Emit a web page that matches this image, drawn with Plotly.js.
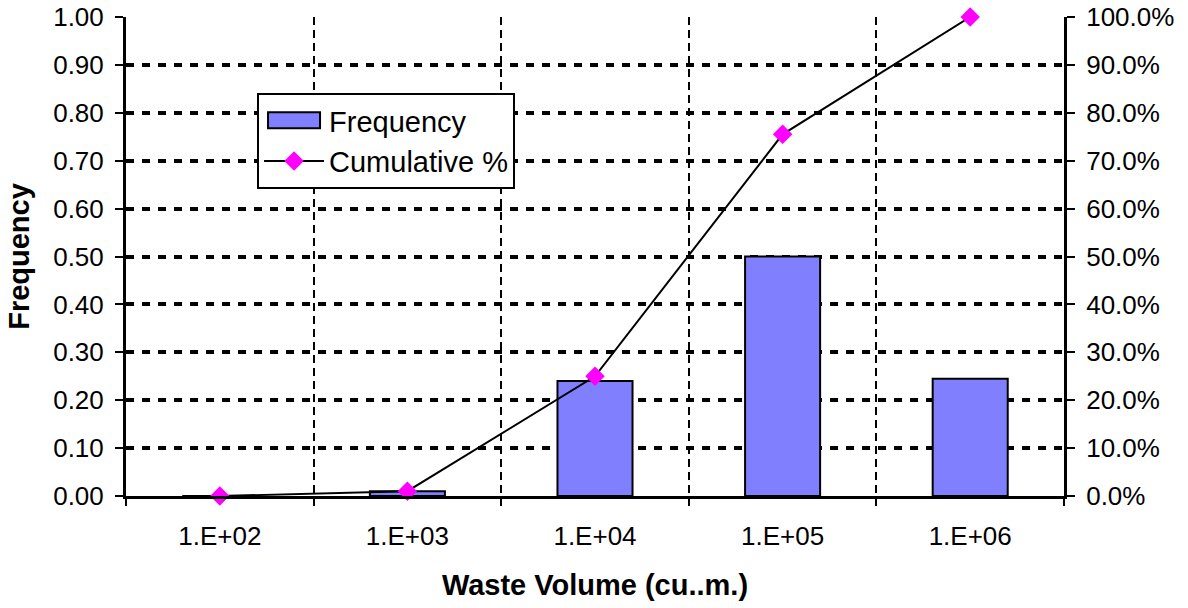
<!DOCTYPE html>
<html><head><meta charset="utf-8">
<script src="https://cdn.plot.ly/plotly-3.0.1.min.js"></script>
<style>body{margin:0;background:#fff}#c{width:1188px;height:608px}</style>
</head><body><div id="c"></div>
<script>
const categories = ["1.E+02", "1.E+03", "1.E+04", "1.E+05", "1.E+06"];
const frequency = [0.0, 0.01, 0.24, 0.50, 0.245];
const cumulative = [0.0, 0.01, 0.25, 0.755, 1.0];
const leftTicks = [0,0.1,0.2,0.3,0.4,0.5,0.6,0.7,0.8,0.9,1.0];

const font = "Liberation Sans, Arial, sans-serif";
const traces = [
  {type:"bar", name:"Frequency", x:categories, y:frequency, width:0.4,
   marker:{color:"#8080FF", line:{color:"#000", width:2}}},
  {type:"scatter", mode:"lines+markers", name:"Cumulative %", x:categories, y:cumulative, yaxis:"y2",
   cliponaxis:false,
   line:{color:"#000", width:2}, marker:{symbol:"diamond", color:"#FF00FF", size:15}}
];
const layout = {
  width:1188, height:608, margin:{l:126, r:124, t:17, b:112},
  paper_bgcolor:"#fff", plot_bgcolor:"#fff",
  font:{family:font, size:26, color:"#000"},
  showlegend:true,
  legend:{x:0.1397, y:0.8413, xanchor:"left", yanchor:"top", bgcolor:"#fff", bordercolor:"#000", borderwidth:2,
          font:{size:29}, tracegroupgap:0, itemwidth:60},
  xaxis:{type:"category", tickson:"boundaries", showgrid:true, gridcolor:"#000", gridwidth:2, griddash:"8px,5px",
         showline:true, linecolor:"#000", linewidth:3, ticks:"outside", ticklen:7, tickcolor:"#000", tickwidth:2,
         tickfont:{size:26}, ticklabelstandoff:15, zeroline:false,
         title:{text:"Waste Volume (cu..m.)", font:{size:29, weight:"bold"}, standoff:25}},
  yaxis:{range:[0,1], tickvals:leftTicks, tickformat:".2f", showgrid:true, gridcolor:"#000", gridwidth:4, griddash:"8px,8px",
         showline:true, linecolor:"#000", linewidth:3, ticks:"outside", ticklen:8, tickcolor:"#000", tickwidth:2,
         zeroline:false, tickfont:{size:26}, ticklabelstandoff:6,
         title:{text:"Frequency", font:{size:29, weight:"bold"}, standoff:16}},
  yaxis2:{range:[0,1], tickvals:leftTicks, tickformat:".1%", overlaying:"y", side:"right", showgrid:false,
          showline:true, linecolor:"#000", linewidth:3, ticks:"outside", ticklen:8, tickcolor:"#000", tickwidth:2,
          zeroline:false, tickfont:{size:26}, ticklabelstandoff:6},
  bargap:0.6
};
Plotly.newPlot("c", traces, layout, {displayModeBar:false, staticPlot:true}).then(function(gd){
  // widen the bar legend swatch to a rectangle like the original
  gd.querySelectorAll(".legend .traces").forEach(function(t){
    var p = t.querySelector(".legendpoints path");
    if (t.textContent.indexOf("Frequency") >= 0 && p) {
      p.setAttribute("d", "M26,8H-26V-8H26Z");
    }
  });
});
</script></body></html>
